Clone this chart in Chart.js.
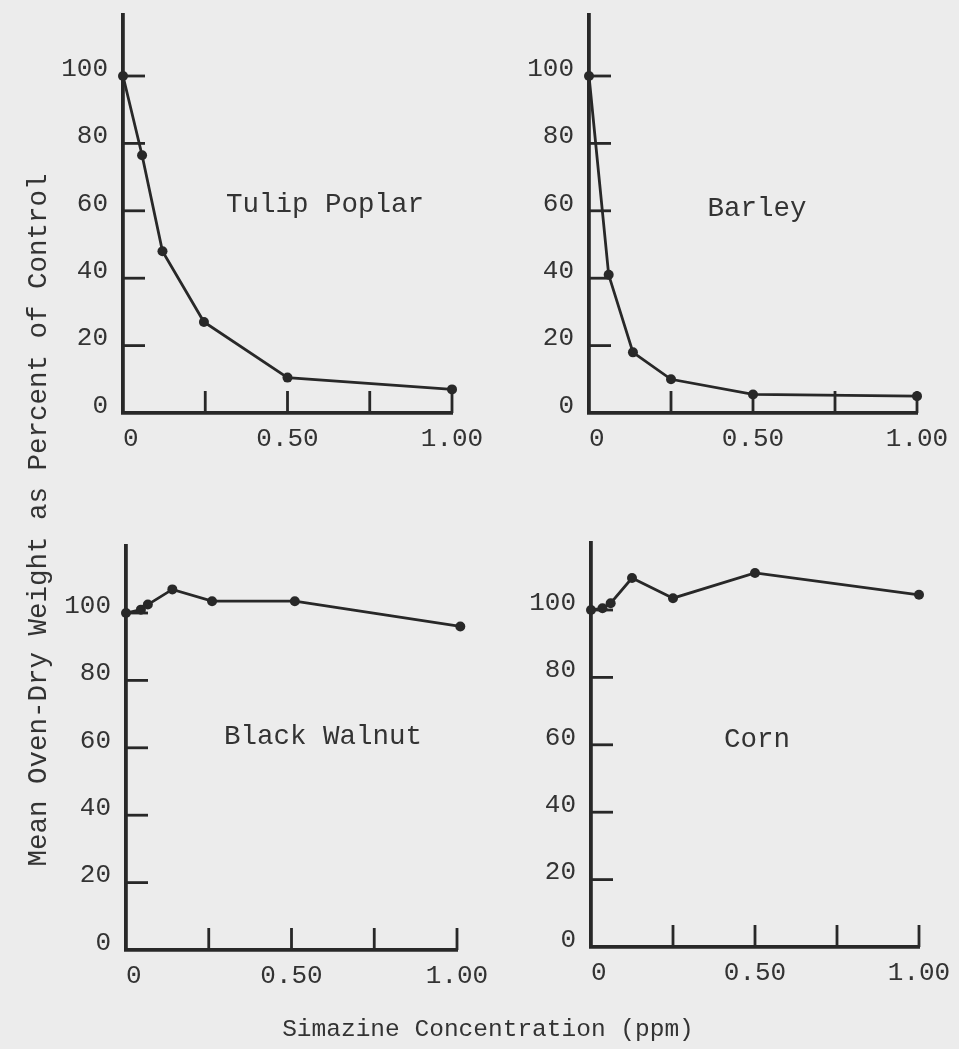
<!DOCTYPE html>
<html>
<head>
<meta charset="utf-8">
<script src="https://cdn.jsdelivr.net/npm/chart.js@4/dist/chart.umd.min.js"></script>
<style>
  html, body { margin: 0; padding: 0; background: #ececec; }
  #wrap { position: relative; width: 959px; height: 1049px; overflow: hidden; background: #ececec; }
  canvas { position: absolute; left: 0; top: 0; }
  .ttl { position: absolute; font-family: 'Liberation Mono', monospace; color: #333; white-space: nowrap; text-align: center; }
  #ytitle { width: 800px; height: 34px; line-height: 34px; left: -361px; top: 503px; font-size: 27.5px; transform: rotate(-90deg); transform-origin: 50% 50%; }
  #xtitle { width: 600px; height: 30px; line-height: 30px; left: 188px; top: 1015px; font-size: 24.5px; }
</style>
</head>
<body>
<div id="wrap">
  <canvas id="c1" width="959" height="1049"></canvas>
  <canvas id="c2" width="959" height="1049"></canvas>
  <canvas id="c3" width="959" height="1049"></canvas>
  <canvas id="c4" width="959" height="1049"></canvas>
  <div class="ttl" id="ytitle">Mean Oven-Dry Weight as Percent of Control</div>
  <div class="ttl" id="xtitle">Simazine Concentration (ppm)</div>
</div>
<script>
// ---- data ----
const xTickValues = [0, 0.25, 0.5, 0.75, 1];
const xTickLabels = [' 0', '', '0.50', '', '1.00'];
const yTickValues = [0, 20, 40, 60, 80, 100];

const panelNames = ['Tulip Poplar', 'Barley', 'Black Walnut', 'Corn'];

const tulipX = [0, 0.058, 0.12, 0.246, 0.5, 1.0];
const tulipY = [100, 76.5, 48, 27, 10.5, 7];

const barleyX = [0, 0.06, 0.134, 0.25, 0.5, 1.0];
const barleyY = [100, 41, 18, 10, 5.5, 5];

const walnutX = [0, 0.045, 0.066, 0.14, 0.26, 0.51, 1.01];
const walnutY = [100, 101, 102.5, 107, 103.5, 103.5, 96];

const cornX = [0, 0.035, 0.06, 0.125, 0.25, 0.5, 1.0];
const cornY = [100, 100.5, 102, 109.5, 103.5, 111, 104.5];

// ---- layout (pixel placement of each panel's plot area) ----
const panels = [
  { id: 'c1', xs: tulipX,  ys: tulipY,  name: panelNames[0], L: 123, R: 452, B: 413, yMax: 118, lx: 0.614, ly: 61.8 },
  { id: 'c2', xs: barleyX, ys: barleyY, name: panelNames[1], L: 589, R: 917, B: 413, yMax: 118, lx: 0.512, ly: 60.6 },
  { id: 'c3', xs: walnutX, ys: walnutY, name: panelNames[2], L: 126, R: 457, B: 950, yMax: 120, lx: 0.595, ly: 63.4 },
  { id: 'c4', xs: cornX,   ys: cornY,   name: panelNames[3], L: 591, R: 919, B: 947, yMax: 120, lx: 0.506, ly: 61.6 }
];

const INK = '#282828';
const FONT = 'Liberation Mono';
const Y_AXIS_W = 80, X_AXIS_H = 50, PX_PER_UNIT = 3.37;

const innerTicks = {
  id: 'innerTicks',
  afterDraw(chart) {
    const ctx = chart.ctx, xs = chart.scales.x, ys = chart.scales.y, a = chart.chartArea;
    ctx.save();
    ctx.strokeStyle = INK; ctx.lineWidth = 2.8; ctx.lineCap = 'butt';
    xTickValues.forEach(v => {
      if (v === 0) return;
      const px = xs.getPixelForValue(v);
      ctx.beginPath(); ctx.moveTo(px, a.bottom); ctx.lineTo(px, a.bottom - 22); ctx.stroke();
    });
    yTickValues.forEach(v => {
      if (v === 0) return;
      const py = ys.getPixelForValue(v);
      ctx.beginPath(); ctx.moveTo(a.left, py); ctx.lineTo(a.left + 22, py); ctx.stroke();
    });
    const p = chart.options.plugins.panelLabel;
    ctx.fillStyle = '#333';
    ctx.font = '27.5px "' + FONT + '"';
    ctx.textAlign = 'center'; ctx.textBaseline = 'middle';
    ctx.fillText(p.text, xs.getPixelForValue(p.x), ys.getPixelForValue(p.y));
    ctx.restore();
  }
};

panels.forEach(p => {
  const T = p.B - p.yMax * PX_PER_UNIT;
  new Chart(document.getElementById(p.id), {
    type: 'line',
    data: {
      datasets: [{
        data: p.xs.map((x, i) => ({ x: x, y: p.ys[i] })),
        borderColor: INK, backgroundColor: INK,
        borderWidth: 2.8, pointRadius: 5, pointBackgroundColor: INK, pointBorderWidth: 0,
        tension: 0, clip: false
      }]
    },
    options: {
      responsive: false, animation: false, events: [],
      layout: { padding: { left: p.L - Y_AXIS_W, right: 959 - p.R, top: T, bottom: 1049 - p.B - X_AXIS_H } },
      plugins: { legend: { display: false }, tooltip: { enabled: false },
                 panelLabel: { text: p.name, x: p.lx, y: p.ly } },
      scales: {
        x: {
          type: 'linear', min: 0, max: 1,
          afterFit(s) { s.height = X_AXIS_H; s.paddingLeft = 0; s.paddingRight = 0; },
          afterBuildTicks(s) { s.ticks = xTickValues.map(v => ({ value: v })); },
          grid: { display: false, drawTicks: false },
          border: { display: true, width: 3.8, color: INK },
          ticks: {
            autoSkip: false, maxRotation: 0, padding: 11, color: '#333',
            font: { family: FONT, size: 26 },
            callback: (v) => { const i = xTickValues.indexOf(v); return i >= 0 ? xTickLabels[i] : ''; }
          }
        },
        y: {
          type: 'linear', min: 0, max: p.yMax,
          afterFit(s) { s.width = Y_AXIS_W; s.paddingTop = 0; s.paddingBottom = 0; },
          afterBuildTicks(s) { s.ticks = yTickValues.map(v => ({ value: v })); },
          grid: { display: false, drawTicks: false },
          border: { display: true, width: 3.8, color: INK },
          ticks: {
            autoSkip: false, padding: 15, labelOffset: -7, color: '#333',
            font: { family: FONT, size: 26 },
            callback: (v) => String(v)
          }
        }
      }
    },
    plugins: [innerTicks]
  });
});
</script>
</body>
</html>
